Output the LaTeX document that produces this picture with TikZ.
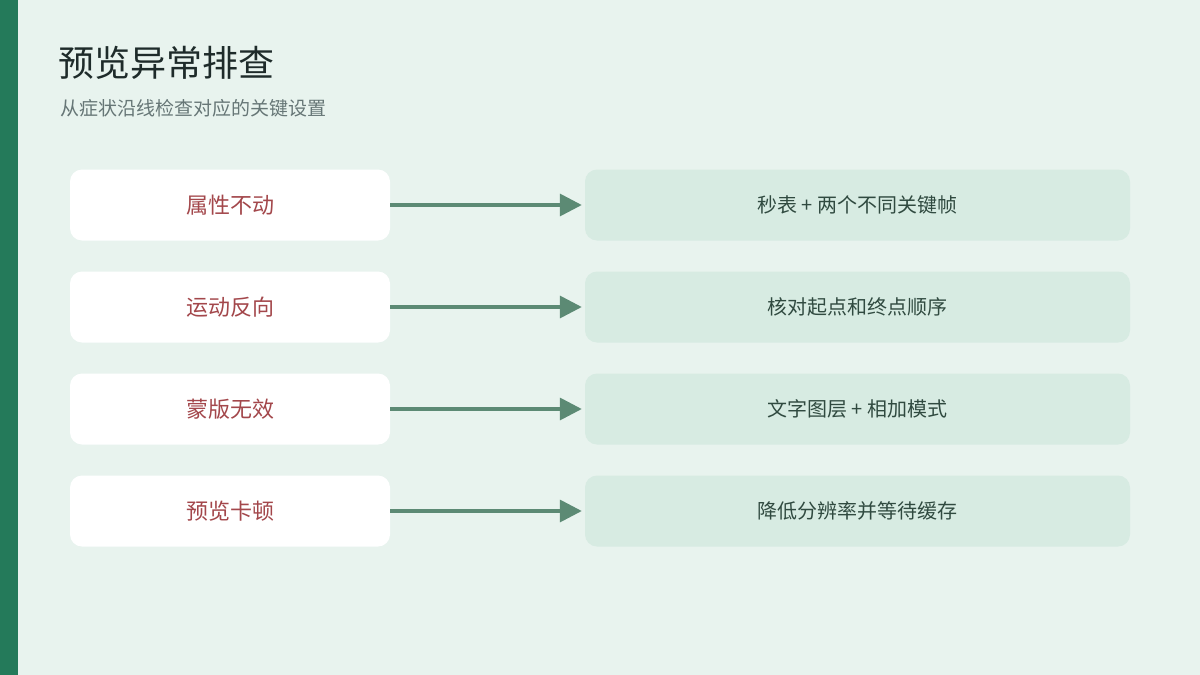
\documentclass[tikz,border=0pt]{standalone}
\usepackage{fontspec}
\newfontfamily\cjk{Noto Sans CJK SC}
\usetikzlibrary{arrows.meta}
\definecolor{bg}{HTML}{E8F3EE}
\definecolor{bar}{HTML}{247A5A}
\definecolor{ttl}{HTML}{1E2B2A}
\definecolor{sub}{HTML}{667676}
\definecolor{lt}{HTML}{A3474B}
\definecolor{rt}{HTML}{304A40}
\definecolor{rf}{HTML}{D7EBE2}
\definecolor{ar}{HTML}{5C8A74}
\begin{document}
\begin{tikzpicture}[x=1pt,y=-1pt,
  lbox/.style={fill=white,rounded corners=12pt,minimum width=320pt,minimum height=71pt,text=lt,font=\cjk\fontsize{22}{26}\selectfont,inner sep=0pt},
  rbox/.style={fill=rf,rounded corners=12pt,minimum width=545pt,minimum height=71pt,text=rt,font=\cjk\fontsize{20}{24}\selectfont,inner sep=0pt},
  conn/.style={draw=ar,line width=3.5pt,-{Triangle[length=22pt,width=22pt]}}]
\fill[bg] (0,0) rectangle (1200,675);
\useasboundingbox (0,0) rectangle (1200,675);
\fill[bar] (0,0) rectangle (18,675);
\node[anchor=west,text=ttl,font=\cjk\fontsize{36}{42}\selectfont,inner sep=0pt] (title) at (58,63) {预览异常排查};
\node[anchor=west,text=sub,font=\cjk\fontsize{19}{23}\selectfont,inner sep=0pt] (subtitle) at (60,108) {从症状沿线检查对应的关键设置};
\foreach \i/\l/\r in {0/属性不动/{秒表 + 两个不同关键帧},1/运动反向/核对起点和终点顺序,2/蒙版无效/{文字图层 + 相加模式},3/预览卡顿/降低分辨率并等待缓存}{
  \node[lbox] (l\i) at (230,205+102*\i) {\l};
  \node[rbox] (r\i) at (857.5,205+102*\i) {\r};
  \draw[conn] (l\i.east) -- ([xshift=-3pt]r\i.west);
}
\end{tikzpicture}
\end{document}
